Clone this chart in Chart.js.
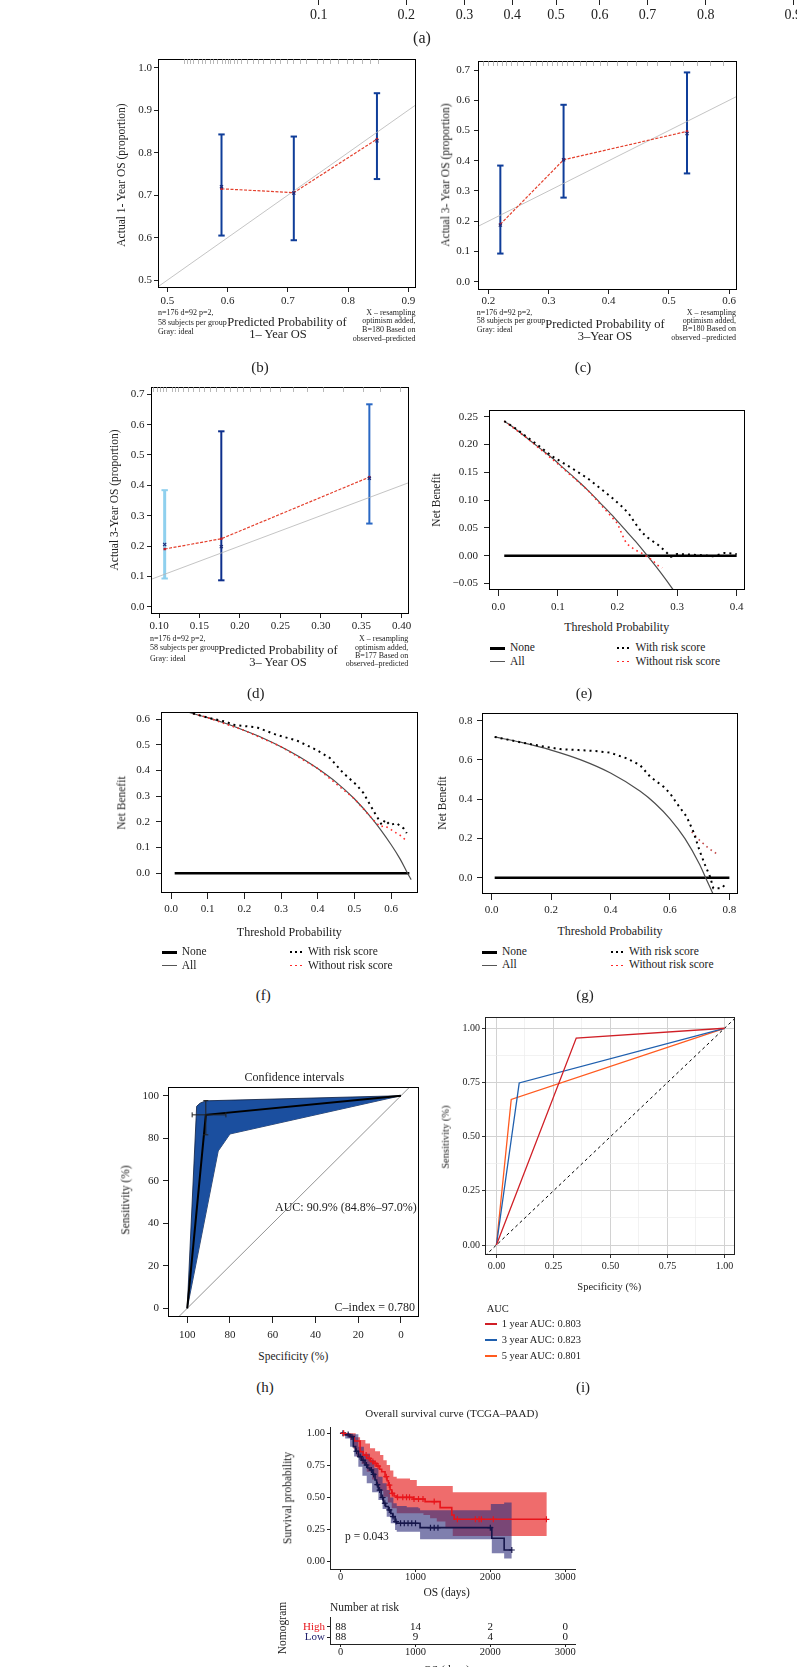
<!DOCTYPE html>
<html>
<head>
<meta charset="utf-8">
<title>Nomogram validation</title>
<script src="https://cdn.jsdelivr.net/npm/chart.js@4.4.1/dist/chart.umd.min.js"></script>
<style>
  html, body { margin: 0; padding: 0; background: #fff; }
  body { position: relative; width: 797px; height: 1667px; overflow: hidden; }
  canvas { position: absolute; }
  .t { position: absolute; white-space: nowrap; line-height: 1; color: #222; font-family: 'Liberation Serif', 'DejaVu Serif', serif; }
  .k { position: absolute; }
</style>
</head>
<body>
<script>
const SERIF = "'Liberation Serif', 'DejaVu Serif', serif";

// (a) probability axis of the nomogram, only its tick row is in view
const aProbs = [0.1, 0.2, 0.3, 0.4, 0.5, 0.6, 0.7, 0.8, 0.9];

// (b) calibration 1-year OS
const bPred = [0.59, 0.71, 0.848];
const bCorr = [0.715, 0.706, 0.832];
const bObs = [0.72, 0.705, 0.828];
const bLow = [0.605, 0.594, 0.738];
const bHigh = [0.843, 0.838, 0.94];
const bRug = [0.527, 0.532, 0.538, 0.543, 0.551, 0.557, 0.563, 0.571, 0.576, 0.582, 0.59, 0.596, 0.6, 0.604, 0.61, 0.615, 0.623, 0.632, 0.643, 0.651, 0.659, 0.67, 0.679, 0.687, 0.698, 0.709, 0.72, 0.731, 0.748, 0.759, 0.77, 0.784, 0.798, 0.809, 0.823, 0.836, 0.85];
const bTicksX = [0.5, 0.6, 0.7, 0.8, 0.9];
const bTicksY = [0.5, 0.6, 0.7, 0.8, 0.9, 1.0];

// (c) calibration 3-year OS
const cPred = [0.22, 0.325, 0.53];
const cCorr = [0.19, 0.403, 0.497];
const cObs = [0.187, 0.403, 0.49];
const cLow = [0.093, 0.278, 0.358];
const cHigh = [0.384, 0.585, 0.692];
const cRug = [0.192, 0.2, 0.208, 0.214, 0.222, 0.23, 0.238, 0.247, 0.258, 0.269, 0.28, 0.289, 0.297, 0.306, 0.314, 0.322, 0.33, 0.341, 0.352, 0.363, 0.374, 0.386, 0.397, 0.413, 0.43, 0.446, 0.463, 0.48, 0.502, 0.524, 0.546, 0.568, 0.59];
const cTicksX = [0.2, 0.3, 0.4, 0.5, 0.6];
const cTicksY = [0, 0.1, 0.2, 0.3, 0.4, 0.5, 0.6, 0.7];

// (d) calibration 3-year OS (second cohort)
const dPred = [0.107, 0.177, 0.36];
const dCorr = [0.19, 0.224, 0.427];
const dObs = [0.205, 0.198, 0.423];
const dLow = [0.093, 0.087, 0.274];
const dHigh = [0.384, 0.578, 0.667];
const dRug = [0.093, 0.097, 0.101, 0.105, 0.109, 0.116, 0.12, 0.124, 0.13, 0.136, 0.142, 0.149, 0.155, 0.163, 0.171, 0.18, 0.188, 0.196, 0.204, 0.212, 0.225, 0.237, 0.25, 0.266, 0.283, 0.303, 0.328, 0.352, 0.373, 0.398];
const dTicksX = [0.10, 0.15, 0.20, 0.25, 0.30, 0.35, 0.40];
const dTicksY = [0, 0.1, 0.2, 0.3, 0.4, 0.5, 0.6, 0.7];
const idealLine = [0, 1];

// (e) decision curve
const eNoneX = [0.01, 0.4], eNoneY = [0, 0];
const eAllX = [0.01, 0.03, 0.05, 0.07, 0.09, 0.11, 0.13, 0.15, 0.17, 0.19, 0.21, 0.23, 0.25, 0.27, 0.29, 0.3];
const eAllY = [0.242, 0.227, 0.21, 0.193, 0.176, 0.157, 0.138, 0.118, 0.096, 0.074, 0.05, 0.026, 0.0, -0.027, -0.056, -0.071];
const eWithX = [0.01, 0.03, 0.05, 0.07, 0.09, 0.11, 0.13, 0.15, 0.17, 0.19, 0.21, 0.22, 0.23, 0.24, 0.25, 0.27, 0.29, 0.3, 0.32, 0.34, 0.36, 0.38, 0.4];
const eWithY = [0.242, 0.228, 0.212, 0.196, 0.179, 0.166, 0.153, 0.139, 0.122, 0.105, 0.086, 0.074, 0.058, 0.043, 0.033, 0.018, -0.002, 0.003, 0.002, 0.001, -0.001, 0.005, 0.003];
const eWoX = [0.01, 0.05, 0.1, 0.15, 0.2, 0.205, 0.21, 0.215, 0.22, 0.23, 0.24, 0.25, 0.26, 0.265, 0.275];
const eWoY = [0.242, 0.21, 0.165, 0.118, 0.058, 0.045, 0.033, 0.022, 0.018, 0.01, 0.005, -0.002, -0.009, -0.016, -0.022];
const eTicksX = [0, 0.1, 0.2, 0.3, 0.4];
const eTicksY = [-0.05, 0, 0.05, 0.1, 0.15, 0.2, 0.25];

// (f) decision curve
const fNoneX = [0.01, 0.65], fNoneY = [0, 0];
const fAllX = [0.01, 0.05, 0.1, 0.15, 0.2, 0.25, 0.3, 0.35, 0.4, 0.45, 0.5, 0.55, 0.6, 0.625, 0.645, 0.655];
const fAllY = [0.641, 0.626, 0.606, 0.583, 0.556, 0.527, 0.493, 0.454, 0.408, 0.355, 0.29, 0.21, 0.112, 0.055, 0.0, -0.025];
const fWithX = [0.06, 0.1, 0.15, 0.17, 0.234, 0.288, 0.343, 0.397, 0.434, 0.47, 0.506, 0.525, 0.556, 0.575, 0.584, 0.597, 0.615, 0.634, 0.643];
const fWithY = [0.622, 0.606, 0.59, 0.578, 0.568, 0.539, 0.517, 0.48, 0.448, 0.39, 0.344, 0.312, 0.234, 0.188, 0.208, 0.188, 0.195, 0.175, 0.156];
const fWoX = [0.06, 0.1, 0.2, 0.3, 0.4, 0.5, 0.55, 0.57, 0.584, 0.6, 0.615, 0.63, 0.641];
const fWoY = [0.622, 0.606, 0.556, 0.493, 0.408, 0.29, 0.21, 0.182, 0.184, 0.17, 0.156, 0.143, 0.127];
const fTicksX = [0, 0.1, 0.2, 0.3, 0.4, 0.5, 0.6];
const fTicksY = [0, 0.1, 0.2, 0.3, 0.4, 0.5, 0.6];

// (g) decision curve
const gNoneX = [0.01, 0.8], gNoneY = [0, 0];
const gAllX = [0.01, 0.1, 0.2, 0.3, 0.4, 0.5, 0.55, 0.6, 0.65, 0.7, 0.72, 0.745];
const gAllY = [0.717, 0.689, 0.65, 0.6, 0.533, 0.44, 0.378, 0.3, 0.2, 0.067, 0.0, -0.083];
const gWithX = [0.01, 0.1, 0.18, 0.23, 0.292, 0.32, 0.35, 0.398, 0.454, 0.499, 0.533, 0.578, 0.6, 0.623, 0.656, 0.679, 0.701, 0.718, 0.735, 0.746, 0.752, 0.774, 0.789];
const gWithY = [0.717, 0.689, 0.667, 0.655, 0.65, 0.648, 0.645, 0.637, 0.608, 0.574, 0.515, 0.464, 0.43, 0.379, 0.311, 0.234, 0.132, 0.065, 0.005, -0.054, -0.054, -0.054, -0.029];
const gWoX = [0.673, 0.7, 0.73, 0.763];
const gWoY = [0.234, 0.19, 0.15, 0.116];
const gTicksX = [0, 0.2, 0.4, 0.6, 0.8];
const gTicksY = [0, 0.2, 0.4, 0.6, 0.8];

// (h) ROC with confidence band
const hSpec = [0, 91.3, 100], hSens = [100, 91, 0];
const hUpSpec = [0, 91.3, 94, 95.6, 100], hUpSens = [100, 97.6, 96.5, 95, 0];
const hLoSpec = [0, 80, 85.5, 100], hLoSens = [100, 82, 74, 0];
const hCiSens = [81.6, 97.7], hCiSpec = [81.9, 97.7];
const hDiag = [-10, 110];
const hTicks = [0, 20, 40, 60, 80, 100];

// (i) time-dependent ROC
const iSpec1 = [0, 0.35, 1], iSens1 = [0, 0.955, 1];
const iSpec3 = [0, 0.1, 1], iSens3 = [0, 0.748, 1];
const iSpec5 = [0, 0.065, 1], iSens5 = [0, 0.672, 1];
const iDiag = [-0.05, 1.05];
const iGrid = [0, 0.125, 0.25, 0.375, 0.5, 0.625, 0.75, 0.875, 1];
const iNames = ['1 year AUC: 0.803', '3 year AUC: 0.823', '5 year AUC: 0.801'];
const iColors = ['#d01f26', '#1f5fae', '#ff5a1f'];

// Kaplan-Meier (TCGA-PAAD)
const highTime = [0, 60, 125, 180, 259, 300, 348, 400, 437, 481, 520, 548, 593, 620, 638, 660, 682, 713, 749, 972, 1128, 1329, 1485, 1516, 2755];
const highSurv = [1.0, 0.99, 0.974, 0.94, 0.857, 0.83, 0.805, 0.78, 0.766, 0.745, 0.72, 0.701, 0.662, 0.63, 0.597, 0.56, 0.532, 0.512, 0.501, 0.488, 0.468, 0.421, 0.364, 0.33, 0.33];
const lowTime = [0, 60, 125, 169, 200, 236, 280, 325, 360, 392, 430, 459, 480, 504, 540, 571, 600, 638, 670, 696, 727, 749, 1061, 2020, 2185, 2287];
const lowSurv = [1.0, 0.99, 0.974, 0.896, 0.86, 0.818, 0.79, 0.753, 0.73, 0.714, 0.68, 0.636, 0.6, 0.558, 0.5, 0.455, 0.43, 0.403, 0.375, 0.351, 0.312, 0.299, 0.265, 0.182, 0.091, 0.091];
const highUpT = [0, 200, 259, 330, 392, 460, 526, 570, 615, 660, 704, 749, 927, 1017, 1498, 2755];
const highUp = [1.0, 0.97, 0.948, 0.92, 0.883, 0.86, 0.831, 0.79, 0.753, 0.71, 0.662, 0.647, 0.636, 0.59, 0.54, 0.54];
const highLoT = [0, 60, 125, 170, 214, 280, 348, 420, 481, 520, 570, 630, 682, 749, 1106, 1195, 1284, 1400, 1498, 2755];
const highLo = [1.0, 0.98, 0.948, 0.88, 0.818, 0.76, 0.701, 0.64, 0.584, 0.55, 0.506, 0.46, 0.416, 0.377, 0.364, 0.338, 0.312, 0.26, 0.2, 0.2];
const lowUpT = [0, 125, 236, 310, 392, 450, 504, 560, 615, 660, 704, 749, 883, 1039, 1061, 2007, 2185, 2287];
const lowUp = [1.0, 0.992, 0.896, 0.84, 0.792, 0.73, 0.662, 0.61, 0.558, 0.5, 0.455, 0.434, 0.423, 0.416, 0.4, 0.45, 0.46, 0.46];
const lowLoT = [0, 60, 125, 180, 236, 290, 348, 420, 504, 560, 615, 670, 727, 749, 1061, 2020, 2185, 2287];
const lowLo = [1.0, 0.96, 0.896, 0.82, 0.74, 0.67, 0.61, 0.54, 0.48, 0.41, 0.35, 0.3, 0.247, 0.234, 0.174, 0.065, 0.025, 0.025];
const highCensT = [40, 340, 380, 430, 460, 500, 610, 650, 690, 760, 830, 880, 920, 980, 1040, 1100, 1250, 1560, 1800, 1850, 1880, 2040, 2750];
const highCensS = [1.0, 0.83, 0.805, 0.78, 0.766, 0.745, 0.662, 0.597, 0.532, 0.501, 0.501, 0.501, 0.501, 0.488, 0.488, 0.488, 0.468, 0.33, 0.33, 0.33, 0.33, 0.33, 0.33];
const lowCensT = [30, 100, 150, 210, 260, 300, 345, 410, 440, 490, 520, 560, 590, 650, 700, 740, 800, 850, 900, 950, 1000, 1200, 1250, 1300, 2000, 2287];
const lowCensS = [1.0, 0.99, 0.974, 0.86, 0.818, 0.79, 0.753, 0.714, 0.68, 0.6, 0.558, 0.5, 0.455, 0.403, 0.351, 0.312, 0.299, 0.299, 0.299, 0.299, 0.299, 0.265, 0.265, 0.265, 0.265, 0.091];
const kmTicksX = [0, 1000, 2000, 3000];
const kmTicksY = [0, 0.25, 0.5, 0.75, 1];
const riskTimes = [0, 1000, 2000, 3000];
const riskGroups = ['High', 'Low'];
const riskHigh = [88, 14, 2, 0];
const riskLow = [88, 9, 4, 0];
const riskColors = ['#e8151b', '#22226e'];

function pts(xs, ys) { return xs.map((x, i) => ({ x: x, y: ys[i] })); }

const boxPlugin = {
  id: 'box',
  afterDatasetsDraw(chart, args, opts) {
    if (!opts.show) return;
    const a = chart.chartArea, c = chart.ctx;
    c.save();
    c.strokeStyle = opts.color || '#000';
    c.lineWidth = 1;
    c.strokeRect(Math.round(a.left) + 0.5, Math.round(a.top) + 0.5, Math.round(a.right - a.left) - 1, Math.round(a.bottom - a.top) - 1);
    c.restore();
  }
};
const rugPlugin = {
  id: 'rug',
  afterDatasetsDraw(chart, args, opts) {
    if (!opts.values) return;
    const x = chart.scales.x, top = chart.chartArea.top, c = chart.ctx;
    c.save();
    c.strokeStyle = '#9a9a9a';
    c.lineWidth = 0.7;
    c.beginPath();
    opts.values.forEach(v => {
      const px = Math.round(x.getPixelForValue(v)) + 0.5;
      c.moveTo(px, top); c.lineTo(px, top + 5);
    });
    c.stroke();
    c.restore();
  }
};
const riskPlugin = {
  id: 'risk',
  afterDraw(chart, args, opts) {
    if (!opts.rows) return;
    const c = chart.ctx, x = chart.scales.x, y = chart.scales.y;
    c.save();
    c.font = '11px ' + SERIF;
    c.fillStyle = '#111';
    c.textAlign = 'center';
    c.textBaseline = 'middle';
    opts.rows.forEach((row, r) => row.forEach((n, i) => {
      c.fillText(String(n), x.getPixelForValue(opts.times[i]), y.getPixelForValue(r + 1));
    }));
    c.restore();
  }
};
Chart.register(boxPlugin, rugPlugin, riskPlugin);
Chart.defaults.font.family = SERIF;
Chart.defaults.color = '#222';

function axis(min, max, ticks, fmt, tl, pad, size, extra) {
  return Object.assign({
    type: 'linear', min: min, max: max,
    afterBuildTicks: s => { s.ticks = ticks.map(v => ({ value: v })); },
    ticks: { callback: (v, i) => fmt(ticks[i], i), autoSkip: false, maxRotation: 0, padding: pad, color: '#222', font: { size: size, lineHeight: 1 } },
    grid: { drawOnChartArea: false, tickLength: tl, tickColor: '#222', tickWidth: 1 },
    border: { display: false }
  }, extra || {});
}

function panel(box, sets, xs, ys, plugins, pad) {
  const [pl, pt, pr, pb] = pad || [48, 16, 16, 24];
  const l = Math.round(box[0]), t = Math.round(box[1]), r = Math.round(box[2]), b = Math.round(box[3]);
  const cv = document.createElement('canvas');
  const w = r - l + pl + pr, h = b - t + pt + pb;
  cv.width = w; cv.height = h;
  cv.style.left = (l - pl) + 'px'; cv.style.top = (t - pt) + 'px';
  cv.style.width = w + 'px'; cv.style.height = h + 'px';
  document.body.appendChild(cv);
  xs.afterFit = s => { s.height = pb; };
  ys.afterFit = s => { s.width = pl; };
  return new Chart(cv, {
    type: 'line',
    data: { datasets: sets },
    options: {
      responsive: false, animation: false, events: [],
      layout: { padding: { left: 0, top: pt, right: pr, bottom: 0 } },
      elements: { point: { radius: 0 }, line: { tension: 0 } },
      plugins: Object.assign({ legend: { display: false }, tooltip: { enabled: false } }, plugins || {}),
      scales: { x: xs, y: ys }
    }
  });
}

function txt(s, x, y, size, align, o) {
  o = o || {};
  const d = document.createElement('div');
  d.className = 't';
  d.textContent = s;
  const tx = align === 'left' ? '0' : align === 'right' ? '-100%' : '-50%';
  d.style.left = x + 'px';
  d.style.top = y + 'px';
  d.style.fontSize = size + 'px';
  if (o.color) d.style.color = o.color;
  d.style.transform = 'translate(' + tx + ',-50%)' + (o.rot ? ' rotate(-90deg)' : '');
  document.body.appendChild(d);
}
function key(x1, x2, y, color, width, dotted) {
  const d = document.createElement('div');
  d.className = 'k';
  d.style.left = x1 + 'px';
  d.style.top = (y - width / 2) + 'px';
  d.style.width = (x2 - x1) + 'px';
  d.style.height = width + 'px';
  d.style.background = dotted
    ? 'repeating-linear-gradient(90deg, ' + color + ' 0 2px, transparent 2px 5px)'
    : color;
  document.body.appendChild(d);
}

// ---- (a) tick row
const logit = p => Math.log(p / (1 - p));
const aAxis = axis(-556 / 108, 284 / 108, aProbs.map(logit), (v, i) => String(aProbs[i]), 5, 3, 14);
panel([0, -12, 840, 0], [], aAxis, { type: 'linear', display: false, min: 0, max: 1 }, {}, [0, 0, 0, 30]);
txt('(a)', 422, 38, 16);

// ---- calibration panels
function calib(box, xr, yr, xt, yt, xf, d) {
  const sets = [
    { data: pts(d.pred, d.obs), showLine: false, pointStyle: 'crossRot', pointRadius: 2.2, pointBorderColor: '#1c2c7a', pointBorderWidth: 1.2 },
    { data: pts(d.pred, d.corr), borderColor: '#e4412e', borderWidth: 1.2, borderDash: [3, 1.5], pointStyle: 'rect', pointRadius: 1.7, pointBackgroundColor: '#b81c2c', pointBorderColor: '#b81c2c', pointBorderWidth: 0 },
    { data: pts(idealLine, idealLine), borderColor: '#b5b5b5', borderWidth: 0.8 }
  ];
  d.pred.forEach((p, i) => sets.push({
    data: pts([p, p], [d.low[i], d.high[i]]), borderColor: d.bar[i], borderWidth: d.barW[i],
    pointStyle: 'line', pointRadius: 3.2, pointBorderColor: d.bar[i], pointBorderWidth: 2
  }));
  panel(box, sets,
    axis(xr[0], xr[1], xt, xf, 4, d.xpad, 11),
    axis(yr[0], yr[1], yt, v => v.toFixed(1), 4, d.ypad, 11),
    { box: { show: true }, rug: { values: d.rug } });
}
const blueBar = '#0f3d99';
calib([158, 59, 416, 288], [0.4846, 0.9128], [0.4816, 1.0205], bTicksX, bTicksY, v => v.toFixed(1),
  { pred: bPred, corr: bCorr, obs: bObs, low: bLow, high: bHigh, rug: bRug, bar: [blueBar, blueBar, blueBar], barW: [2, 2, 2], xpad: 4, ypad: 2 });
calib([478, 61, 737, 290], [0.1829, 0.613], [-0.0275, 0.7298], cTicksX, cTicksY, v => v.toFixed(1),
  { pred: cPred, corr: cCorr, obs: cObs, low: cLow, high: cHigh, rug: cRug, bar: [blueBar, blueBar, blueBar], barW: [2, 2, 2], xpad: 2, ypad: 4 });
calib([151, 387, 409, 614], [0.0901, 0.409], [-0.024, 0.724], dTicksX, dTicksY, v => v.toFixed(2),
  { pred: dPred, corr: dCorr, obs: dObs, low: dLow, high: dHigh, rug: dRug, bar: ['#8fd0ee', '#0d2f8c', '#2a68c4'], barW: [3, 2, 2], xpad: 3, ypad: 2.5 });

const smallNotesL = ['n=176 d=92 p=2,', '58 subjects per group', 'Gray: ideal'];
txt('Actual 1- Year OS (proportion)', 121.7, 175, 11.5, 'center', { rot: true });
smallNotesL.forEach((s, i) => txt(s, 158, [313.3, 323, 332][i], 8, 'left'));
txt('Predicted Probability of', 287, 322, 12.5);
txt('1– Year OS', 278, 333.5, 12.5);
['X – resampling', 'optimism added,', 'B=180 Based on', 'observed–predicted'].forEach((s, i) => txt(s, 415.5, [313.3, 321, 329.5, 338.5][i], 8, 'right'));
txt('(b)', 260, 367, 15);

txt('Actual 3- Year OS (proportion)', 446, 175, 11.5, 'center', { rot: true });
smallNotesL.forEach((s, i) => txt(s, 476.7, [312.5, 321, 329.5][i], 8, 'left'));
txt('Predicted Probability of', 605, 323.5, 12.5);
txt('3–Year OS', 605, 336, 12.5);
['X – resampling', 'optimism added,', 'B=180 Based on', 'observed –predicted'].forEach((s, i) => txt(s, 736, [312.7, 321, 329.3, 338.3][i], 8, 'right'));
txt('(c)', 583, 367, 15);

txt('Actual 3-Year OS (proportion)', 115, 500, 11.5, 'center', { rot: true });
smallNotesL.forEach((s, i) => txt(s, 150, [639.3, 648.3, 659][i], 8, 'left'));
txt('Predicted Probability of', 278, 650, 12.5);
txt('3– Year OS', 278, 662, 12.5);
['X – resampling', 'optimism added,', 'B=177 Based on', 'observed–predicted'].forEach((s, i) => txt(s, 408.3, [639.3, 647.8, 656, 664.3][i], 8, 'right'));
txt('(d)', 255.7, 692.7, 15);

// ---- decision curves
function dca(box, xr, yr, xt, yt, yf, d) {
  const sets = [
    { data: pts(d.withX, d.withY), borderColor: '#000', borderWidth: 2, borderDash: [2, 4] },
    { data: pts(d.woX, d.woY), borderColor: d.woColor || '#ff2a2a', borderWidth: 1.6, borderDash: [1.6, 3.6] },
    { data: pts(d.allX, d.allY), borderColor: '#4d4d4d', borderWidth: 1.2, cubicInterpolationMode: 'monotone' },
    { data: pts(d.noneX, d.noneY), borderColor: '#000', borderWidth: 2.4 }
  ];
  panel(box, sets,
    axis(xr[0], xr[1], xt, v => v.toFixed(1), 6, d.xpad, 11),
    axis(yr[0], yr[1], yt, yf, 5, d.ypad, 11),
    { box: { show: true } });
}
dca([489, 410, 745, 590], [-0.0156, 0.414], [-0.0617, 0.262], eTicksX, eTicksY,
  v => (v < 0 ? '−' : '') + Math.abs(v).toFixed(2),
  { withX: eWithX, withY: eWithY, woX: eWoX, woY: eWoY, allX: eAllX, allY: eAllY, noneX: eNoneX, noneY: eNoneY, xpad: 5.5, ypad: 6 });
dca([161, 712, 418, 893], [-0.0273, 0.6736], [-0.077, 0.628], fTicksX, fTicksY, v => v.toFixed(1),
  { withX: fWithX, withY: fWithY, woX: fWoX, woY: fWoY, allX: fAllX, allY: fAllY, noneX: fNoneX, noneY: fNoneY, xpad: 4.5, ypad: 6 });
dca([482, 713, 738, 894], [-0.0327, 0.829], [-0.083, 0.839], gTicksX, gTicksY, v => v.toFixed(1),
  { withX: gWithX, withY: gWithY, woX: gWoX, woY: gWoY, woColor: '#c24a4a', allX: gAllX, allY: gAllY, noneX: gNoneX, noneY: gNoneY, xpad: 4.5, ypad: 4.6 });

function dcaText(yT, xT, tT, legX, legY, dotX) {
  txt('Net Benefit', yT[0], yT[1], 11.5, 'center', { rot: true });
  txt('Threshold Probability', xT, tT, 12);
  key(legX, legX + 15, legY, '#000', 3);
  key(legX, legX + 15, legY + 13.4, '#555', 1.6);
  txt('None', legX + 20, legY, 11.5, 'left');
  txt('All', legX + 20, legY + 13.4, 11.5, 'left');
  key(dotX, dotX + 13, legY, '#000', 2, true);
  key(dotX, dotX + 13, legY + 13.4, '#ff2a2a', 1.6, true);
  txt('With risk score', dotX + 18.5, legY, 11.5, 'left');
  txt('Without risk score', dotX + 18.5, legY + 13.4, 11.5, 'left');
}
dcaText([437, 500], 616.7, 626.7, 490, 648.3, 617);
txt('(e)', 584, 692.7, 15);
dcaText([121.7, 803], 289.3, 931.7, 161.7, 952.3, 289.5);
txt('(f)', 263.3, 995, 15);
dcaText([443.3, 803], 610, 931, 482, 952, 610.5);
txt('(g)', 585, 995, 15);

// ---- (h) ROC with confidence band
panel([168, 1087, 419, 1317], [
  { data: pts([91.3, 91.3], hCiSens), borderColor: '#222', borderWidth: 1, pointStyle: 'line', pointRadius: 2.5, pointBorderColor: '#222', pointBorderWidth: 1 },
  { data: pts(hCiSpec, [91, 91]), borderColor: '#222', borderWidth: 1, pointStyle: 'line', pointRotation: 90, pointRadius: 2.5, pointBorderColor: '#222', pointBorderWidth: 1 },
  { data: pts(hSpec, hSens), borderColor: '#000', borderWidth: 2 },
  { data: pts(hUpSpec, hUpSens), borderColor: '#0b1d40', borderWidth: 0.8, fill: '+1', backgroundColor: '#1b4f9f' },
  { data: pts(hLoSpec, hLoSens), borderColor: '#0b1d40', borderWidth: 0.8 },
  { data: pts(hDiag, hDiag.slice().reverse()), borderColor: '#777', borderWidth: 0.8 }
],
  axis(-8.45, 109, hTicks.slice().reverse(), v => String(v), 6, 7, 11, { reverse: true }),
  axis(-4.1, 104.1, hTicks, v => String(v), 5, 4, 11),
  { box: { show: true } });
txt('Confidence intervals', 294.3, 1076.7, 12);
txt('Sensitivity (%)', 126, 1200, 11.5, 'center', { rot: true });
txt('Specificity (%)', 293.3, 1356.7, 11.5);
txt('AUC: 90.9% (84.8%–97.0%)', 416.7, 1206.7, 12, 'right');
txt('C–index = 0.780', 415, 1307.3, 12, 'right');
txt('(h)', 265, 1386.7, 15);

// ---- (i) time-dependent ROC
const iFmt = (v, i) => (i % 2 ? '' : v.toFixed(2));
const iGridCfg = {
  drawOnChartArea: true,
  color: c => (c.index % 2 ? '#ececec' : '#d2d2d2'),
  lineWidth: c => (c.index % 2 ? 0.7 : 1),
  tickLength: 3,
  tickColor: c => (c.index % 2 ? 'rgba(0,0,0,0)' : '#333')
};
const iX = axis(-0.05, 1.046, iGrid, iFmt, 3, 3.7, 10);
const iY = axis(-0.046, 1.052, iGrid, iFmt, 3, 2, 10);
iX.grid = iGridCfg; iY.grid = iGridCfg;
panel([485, 1017, 735, 1255], [
  { data: pts(iSpec1, iSens1), borderColor: iColors[0], borderWidth: 1.3 },
  { data: pts(iSpec3, iSens3), borderColor: iColors[1], borderWidth: 1.3 },
  { data: pts(iSpec5, iSens5), borderColor: iColors[2], borderWidth: 1.3 },
  { data: pts(iDiag, iDiag), borderColor: '#000', borderWidth: 1, borderDash: [3, 3] }
], iX, iY, { box: { show: true, color: '#222' } });
txt('Sensitivity (%)', 446, 1136.7, 10.5, 'center', { rot: true });
txt('Specificity (%)', 609.3, 1287.3, 10.5);
txt('AUC', 486.7, 1309.3, 10.5, 'left');
iNames.forEach((s, i) => {
  key(485, 497, 1324 + i * 16, iColors[i], 1.5);
  txt(s, 501.7, 1324 + i * 16, 10.5, 'left');
});
txt('(i)', 583, 1386.7, 15);

// ---- Kaplan-Meier
const kmHigh = '#e8151b', kmLow = '#15154a';
panel([330, 1427, 575, 1569], [
  { data: pts(highCensT, highCensS), showLine: false, pointStyle: 'cross', pointRadius: 3, pointBorderColor: kmHigh, pointBorderWidth: 1.2 },
  { data: pts(lowCensT, lowCensS), showLine: false, pointStyle: 'cross', pointRadius: 3, pointBorderColor: kmLow, pointBorderWidth: 1.2 },
  { data: pts(lowTime, lowSurv), stepped: true, borderColor: kmLow, borderWidth: 1.6 },
  { data: pts(highTime, highSurv), stepped: true, borderColor: kmHigh, borderWidth: 1.6 },
  { data: pts(lowUpT, lowUp), stepped: true, borderWidth: 0, borderColor: 'rgba(0,0,0,0)', fill: '+1', backgroundColor: 'rgba(48,48,125,0.62)' },
  { data: pts(lowLoT, lowLo), stepped: true, borderWidth: 0, borderColor: 'rgba(0,0,0,0)' },
  { data: pts(highUpT, highUp), stepped: true, borderWidth: 0, borderColor: 'rgba(0,0,0,0)', fill: '+1', backgroundColor: 'rgba(232,45,45,0.7)' },
  { data: pts(highLoT, highLo), stepped: true, borderWidth: 0, borderColor: 'rgba(0,0,0,0)' }
],
  axis(-143, 3132, kmTicksX, v => String(v), 3, 0, 10.5, { border: { display: true, color: '#222' } }),
  axis(-0.057, 1.049, kmTicksY, v => v.toFixed(2), 3, 2, 10.5, { border: { display: true, color: '#222' } }));
txt('Overall survival curve (TCGA–PAAD)', 451.7, 1412.7, 11);
txt('Survival probability', 288.3, 1498.3, 11.5, 'center', { rot: true });
txt('OS (days)', 446.7, 1593.3, 11.5);
txt('p = 0.043', 345, 1536.7, 11.5, 'left');

// risk table
const riskY = axis(0.085, 2.63, [1, 2], (v, i) => riskGroups[i], 3, 2, 11, { reverse: true, border: { display: true, color: '#222' } });
riskY.ticks.color = c => riskColors[c.index];
panel([330, 1617, 575, 1644], [],
  axis(-143, 3132, riskTimes, v => String(v), 3, 0, 10.5, { border: { display: true, color: '#222' } }),
  riskY, { risk: { rows: [riskHigh, riskLow], times: riskTimes } });
txt('Number at risk', 330, 1608.3, 11.5, 'left');
txt('Nomogram', 283.3, 1628, 11.5, 'center', { rot: true });
txt('OS (days)', 446.7, 1671, 11.5);
</script>
</body>
</html>
